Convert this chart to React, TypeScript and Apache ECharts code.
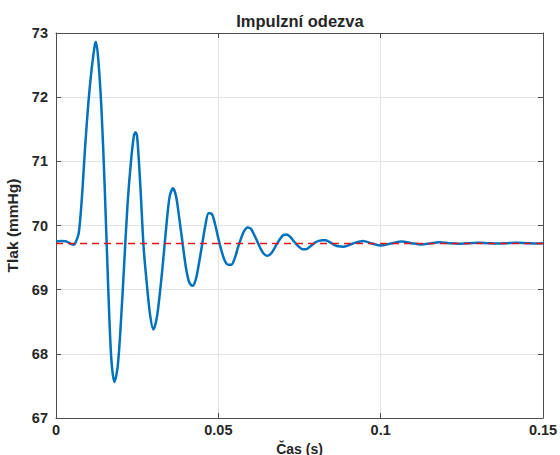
import React, { useEffect, useRef } from "react";
import * as echarts from "echarts";

const timeS: number[] = [
  0, 0.0015, 0.003, 0.004, 0.005, 0.0055, 0.006, 0.007, 0.008, 0.009,
  0.01, 0.011, 0.012, 0.0123, 0.013, 0.014, 0.015, 0.016, 0.017, 0.018,
  0.019, 0.02, 0.021, 0.022, 0.023, 0.024, 0.0245, 0.025, 0.026, 0.027, 0.028,
  0.029, 0.03, 0.031, 0.032, 0.033, 0.034, 0.035, 0.036, 0.037, 0.038,
  0.039, 0.04, 0.041, 0.042, 0.043, 0.044, 0.045, 0.046, 0.047, 0.048,
  0.049, 0.05, 0.051, 0.052, 0.053, 0.054, 0.055, 0.056, 0.057, 0.058,
  0.059, 0.06, 0.061, 0.062, 0.063, 0.064, 0.065, 0.066, 0.067, 0.068,
  0.069, 0.07, 0.071, 0.072, 0.073, 0.074, 0.075, 0.076, 0.077, 0.078,
  0.079, 0.08, 0.081, 0.082, 0.083, 0.084, 0.085, 0.086, 0.087, 0.0885,
  0.0915, 0.0946, 0.0972, 0.0998, 0.1032, 0.1065, 0.1095, 0.1125, 0.1152,
  0.118, 0.121, 0.124, 0.127, 0.13, 0.133, 0.136, 0.139, 0.142, 0.145,
  0.148, 0.15,
];

const pressure: number[] = [
  69.75, 69.76, 69.755, 69.73, 69.705, 69.7, 69.73, 69.88, 70.45, 71.25,
  71.93, 72.45, 72.83, 72.86, 72.6, 71.82, 70.6, 69.15, 67.95, 67.56,
  67.8, 68.5, 69.4, 70.3, 70.95, 71.4, 71.455, 71.38, 70.6, 69.65, 69.08,
  68.6, 68.38, 68.55, 68.95, 69.45, 70.0, 70.45, 70.58, 70.45, 70.1,
  69.72, 69.35, 69.12, 69.06, 69.15, 69.4, 69.7, 70.0, 70.19, 70.18,
  70.02, 69.8, 69.6, 69.45, 69.39, 69.39, 69.48, 69.65, 69.8, 69.92,
  69.97, 69.95, 69.86, 69.75, 69.64, 69.56, 69.53, 69.55, 69.62, 69.71,
  69.79, 69.85, 69.86, 69.83, 69.77, 69.71, 69.66, 69.63, 69.63, 69.66,
  69.7, 69.74, 69.76, 69.77, 69.77, 69.75, 69.72, 69.69, 69.675, 69.67,
  69.72, 69.76, 69.72, 69.69, 69.72, 69.75, 69.725, 69.705, 69.72,
  69.74, 69.725, 69.715, 69.725, 69.73, 69.725, 69.72, 69.725, 69.73, 69.725,
  69.72, 69.725,
];

const steadyState = 69.72;
const xRange = [0, 0.15];
const yRange = [67, 73];
const xTicks = ["0", "0.05", "0.1", "0.15"];

export default function App() {
  const ref = useRef<HTMLDivElement>(null);
  useEffect(() => {
    if (!ref.current) return;
    const chart = echarts.init(ref.current, undefined, { renderer: "svg" });
    const font = "'Liberation Sans', Arial, Helvetica, sans-serif";
    const axisColor = "#4d4d4d";
    const labelStyle = {
      color: "#262626",
      fontFamily: font,
      fontWeight: "bold" as const,
      fontSize: 14.5,
    };
    const gridLine = { show: true, lineStyle: { color: "#e3e3e3", width: 1 } };
    const tick = { show: true, inside: true, length: 5, lineStyle: { color: axisColor } };
    const line = { show: true, onZero: false, lineStyle: { color: axisColor, width: 1 } };
    chart.setOption({
      animation: false,
      backgroundColor: "#ffffff",
      title: {
        text: "Impulzní odezva",
        left: 300,
        top: 12,
        textAlign: "center",
        padding: 0,
        textStyle: { ...labelStyle, fontSize: 16.5 },
      },
      grid: { left: 56, right: 17, top: 33, bottom: 37, outerBoundsMode: "none", containLabel: false },
      xAxis: [
        {
          type: "value",
          min: xRange[0],
          max: xRange[1],
          interval: 0.05,
          position: "bottom",
          axisLine: line,
          axisTick: tick,
          splitLine: gridLine,
          axisLabel: {
            ...labelStyle,
            margin: 4,
            lineHeight: 15,
            formatter: (v: number) => xTicks[Math.round(v / 0.05)] ?? "",
          },
          name: "Čas (s)",
          nameLocation: "middle",
          nameGap: 15,
          nameTextStyle: { ...labelStyle, fontSize: 14, lineHeight: 15, verticalAlign: "top" },
        },
        {
          type: "value",
          min: xRange[0],
          max: xRange[1],
          interval: 0.05,
          position: "top",
          axisLine: line,
          axisTick: tick,
          splitLine: { show: false },
          axisLabel: { show: false },
        },
      ],
      yAxis: [
        {
          type: "value",
          min: yRange[0],
          max: yRange[1],
          interval: 1,
          position: "left",
          axisLine: line,
          axisTick: tick,
          splitLine: gridLine,
          axisLabel: { ...labelStyle, margin: 8 },
          name: "Tlak (mmHg)",
          nameLocation: "middle",
          nameGap: 32,
          nameTextStyle: { ...labelStyle, fontSize: 15.5 },
        },
        {
          type: "value",
          min: yRange[0],
          max: yRange[1],
          interval: 1,
          position: "right",
          axisLine: line,
          axisTick: tick,
          splitLine: { show: false },
          axisLabel: { show: false },
        },
      ],
      series: [
        {
          type: "line",
          data: timeS.map((t, i) => [t, pressure[i]]),
          smooth: 0.3,
          showSymbol: false,
          lineStyle: { color: "#0072BD", width: 2.5 },
          z: 3,
        },
        {
          type: "line",
          data: [
            [xRange[0], steadyState],
            [xRange[1], steadyState],
          ],
          showSymbol: false,
          lineStyle: { color: "#e8141c", width: 1.6, type: [7, 5] },
          z: 4,
        },
      ],
    });
    return () => chart.dispose();
  }, []);
  return (
    <div
      ref={ref}
      style={{ position: "fixed", left: 0, top: 0, width: 560, height: 455 }}
    />
  );
}
